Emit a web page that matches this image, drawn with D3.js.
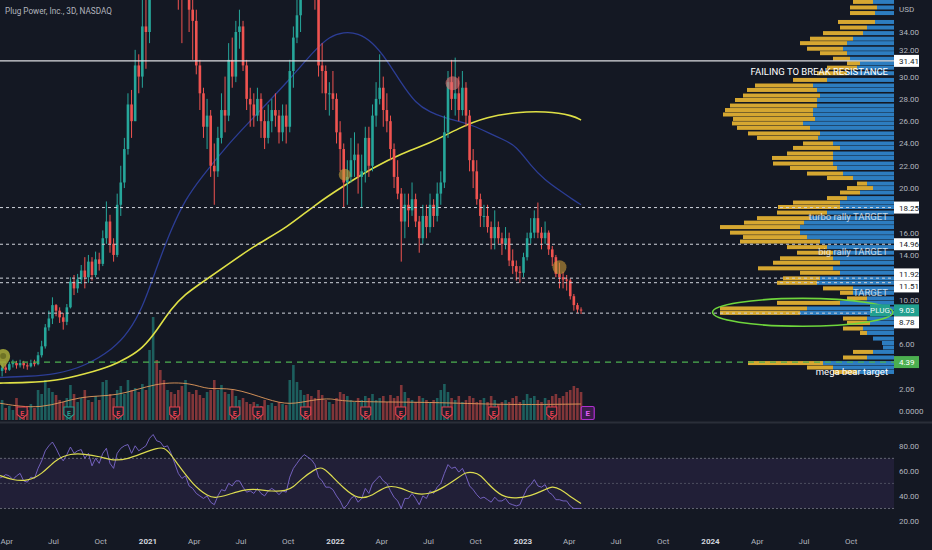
<!DOCTYPE html>
<html>
<head>
<meta charset="utf-8">
<script src="https://cdn.jsdelivr.net/npm/d3@7/dist/d3.min.js"></script>
<style>
 html,body{margin:0;padding:0;background:#141823;overflow:hidden}
 svg{display:block}
 text{font-family:Roboto,"Liberation Sans",sans-serif}
</style>
</head>
<body>
<svg id="c" width="932" height="550"></svg>
<script>
// ================= DATA =================
const title = "Plug Power, Inc., 3D, NASDAQ";
const firstBarDate = "2020-03-16";   // weekly-spaced bars from here
const firstOpen = 3.4;
const closes = [
 3.6,3.9,3.7,4.2,4.3,4.1,4.3,4.1,4.0,4.3,4.2,
 5.0,5.8,7.5,8.3,9.5,9.0,8.4,8.0,9.3,
 11.6,11.0,11.8,12.6,12.0,13.4,12.2,13.6,13.2,
 15.5,17.0,15.0,14.0,18.5,20.5,23.5,27.5,26.0,31.0,30.0,34.5,34.0,
 45,65,62,60,58,58,50,45,40,
 38,42,36,35,31,28.5,25.5,26.5,22.0,21.5,
 24.5,27.0,26.5,31.5,30.0,34.0,34.5,31.0,28.0,27.5,
 26.5,28.0,26.0,24.5,26.0,27.0,26.5,25.0,26.5,25.5,
 30.5,33.5,35.5,39,43,42,40,38,31,30.5,
 28.5,28.5,28.0,25.0,23.5,20.5,21.0,22.5,23.0,21.0,
 21.5,24.5,22.0,26.5,28.0,29.0,27.0,26.0,23.5,21.0,
 19.5,17.0,18.5,18.0,19.0,17.0,15.5,17.5,16.5,18.5,
 17.5,19.5,20.5,25.0,29.5,28.0,28.5,27.0,29.0,26.5,
 22.5,21.5,19.0,17.5,17.5,16.5,15.5,16.5,15.5,15.0,
 15.5,13.5,13.0,12.5,12.4,13.8,15.5,16.0,17.3,16.0,
 15.5,16.0,14.5,13.8,12.3,12.0,11.8,11.7,10.3,9.5,9.1,9.03
];
const highs = [
 4.2,4.3,4.2,4.4,4.6,4.5,4.6,4.5,4.3,4.6,4.6,
 5.3,6.3,7.8,9.0,10.2,9.6,9.3,8.8,9.6,
 12.0,12.2,12.3,13.1,13.8,14.0,13.8,14.3,14.2,
 16.2,18.8,17.6,15.5,19.5,22.0,24.5,28.5,28.8,32.4,32.0,37.5,38,
 50,70,69,75,65,65,60,53,46,
 44,46,43,38,36,31.5,29,28.0,27.0,24.0,
 25.5,28.5,30.0,33.0,33.5,35.0,36.0,35.0,31.5,29.0,
 28.5,29.0,28.5,27.0,27.5,28.0,28.5,27.0,27.5,27.5,
 31.5,34.5,37.5,42,46,45,44,42,39,33,
 31.0,29.5,30.5,28.5,26.0,24.0,22.5,24.5,25.0,24.0,
 23.0,25.5,25.5,27.5,29.5,32.0,30.0,28.5,26.5,24.0,
 22.5,20.0,19.5,19.5,20.5,19.5,17.5,18.5,18.5,19.5,
 19.0,20.5,21.5,26.5,30.5,31.5,31.7,30.0,30.5,29.5,
 27.0,23.5,22.5,19.5,18.5,18.5,17.0,18.0,17.0,16.0,
 16.5,16.0,14.5,13.5,13.0,14.2,16.0,17.3,18.0,18.7,
 16.5,17.0,16.2,14.8,14.0,13.3,12.5,12.2,11.9,10.5,9.7,9.3
];
const lows = [
 2.9,3.1,3.4,3.6,3.9,3.8,3.9,3.8,3.7,3.9,4.0,
 4.1,4.8,5.6,7.2,7.8,8.5,7.9,7.3,7.7,
 9.2,10.4,10.6,11.4,11.0,11.5,11.7,12.0,12.6,
 13.0,15.0,14.2,13.4,13.8,17.5,20.0,23.0,24.5,26.0,28.5,29.0,30.7,
 33,44,55,55,50,55,48,38,36,
 33,37,34,31.5,30.2,27.0,24.5,23.5,21.0,18.5,
 21.0,24.0,25.0,26.0,29.0,29.5,32.5,30.5,27.0,25.5,
 25.5,26.0,24.5,23.5,24.0,25.0,25.5,24.0,24.2,24.0,
 25.0,29.0,33.0,34,38,40,38,36,30,28.5,
 27.0,26.5,27.0,24.0,21.5,18.3,18.5,20.5,21.0,19.5,
 18.3,20.5,21.0,21.5,25.5,27.5,25.5,25.0,22.5,20.0,
 19.0,13.4,15.5,16.5,17.5,16.5,14.2,15.0,15.5,16.0,
 16.5,17.0,18.5,20.0,24.5,27.0,26.5,26.0,26.5,25.5,
 21.5,20.0,18.5,16.5,16.5,16.0,14.5,14.5,15.0,14.0,
 14.5,13.0,12.3,11.7,11.5,12.0,13.5,15.0,15.5,15.5,
 14.5,15.0,14.0,13.0,12.0,11.0,11.0,10.8,10.0,9.0,8.8,8.7
];
const volumes = [
 18,20,12,14,10,22,12,14,10,16,12,
 30,26,40,32,28,25,20,18,22,
 35,26,18,22,30,20,18,24,20,
 38,40,26,22,30,34,26,40,30,32,28,36,30,
 70,103,60,50,40,30,28,26,30,
 34,40,28,26,30,25,22,28,30,40,
 30,35,28,26,30,24,20,22,18,16,
 18,16,14,20,15,17,14,18,16,15,
 40,55,38,30,25,26,24,22,30,25,
 20,18,16,22,28,26,24,20,18,22,
 20,24,22,26,20,22,24,18,25,22,
 24,35,28,22,20,18,24,22,20,18,
 20,22,30,36,28,22,20,24,18,20,
 24,22,18,20,22,18,24,20,16,18,
 20,18,22,24,18,20,26,22,24,20,
 18,22,20,24,26,22,24,28,30,34,32,28
];
const volumeMA = [[0,17],[12,10],[23,25],[33,23],[44,38],[54,37],[58,30],[65,33],[75,20],[81,15],[87,20],[93,22],[95,18],[121,18],[140,15],[162,16]];
const rsiValues = [
 54,55,57,56,53,56,58,52,51,55,54,
 62,68,76,80,83,78,72,68,73,
 79,74,76,77,70,74,64,70,66,
 74,78,66,62,74,78,80,81,74,80,76,78,80,
 86,89,84,83,79,80,74,66,58,
 54,56,48,46,42,40,38,40,35,33,
 40,45,44,50,48,52,52,47,43,44,
 42,46,42,40,44,46,44,41,44,43,
 55,62,66,70,73,71,69,65,55,52,
 47,47,45,40,36,30,33,38,40,35,
 38,46,42,50,53,56,52,50,44,39,
 36,30,38,38,42,38,33,40,38,44,
 42,47,50,58,65,62,63,59,62,56,
 48,45,41,38,39,37,35,39,36,36,
 38,34,33,32,33,40,46,49,53,48,
 47,49,43,41,37,37,36,36,32,30,30,30
];
const rsiSignal = [[0,56.7],[4,52.5],[8,51.8],[12,57],[16,69.5],[20,73.8],[24,73.5],[28,71.5],[32,68],[36,69.5],[40,74],[44,78],[46,79],[48,73],[50,64.7],[52,57],[54,50],[56,44.5],[58,40.5],[60,38],[64,41],[68,45],[72,45.5],[76,43.5],[80,44],[82,47],[84,53],[88,61.5],[90,63.3],[92,58],[96,46],[100,37],[104,40],[108,49],[112,46.5],[116,41],[120,41.5],[124,47],[128,55],[130,59],[132,58.8],[134,57],[136,50],[140,39],[144,38],[148,40],[152,45],[154,47.8],[156,46],[160,37.5],[162,34]];
const maYellow = [[0,2.5],[8,2.55],[16,2.7],[24,3.3],[32,4.1],[36,4.8],[40,5.6],[44,7.2],[48,9.2],[52,10.5],[56,11.4],[64,13.2],[72,15.0],[80,16.4],[88,18.5],[96,20.2],[104,21.8],[112,23.1],[120,24.0],[128,25.4],[136,26.4],[144,26.8],[152,26.9],[160,26.5],[162,26.1]];
const maBlue = [[0,3.0],[8,3.1],[16,3.3],[24,4.0],[32,5.6],[36,7.0],[40,9.2],[44,12.9],[48,16.3],[52,19.0],[56,20.8],[64,24.0],[72,26.7],[80,29.4],[88,32.4],[92,33.6],[96,34.0],[100,33.9],[104,33.1],[108,31.5],[112,29.4],[116,27.6],[120,26.8],[124,26.3],[128,26.0],[132,25.6],[136,25.0],[140,24.4],[144,23.8],[148,22.0],[152,20.7],[156,19.8],[160,18.9],[162,18.5]];
// volume profile rows
const vpPrices = [36.7,36.2,35.7,34.9,34.4,33.9,33.4,33.0,32.5,32.1,31.6,31.2,30.8,30.3,29.7,29.2,28.8,28.3,27.9,27.4,27.0,26.6,26.2,25.8,25.4,24.9,24.5,24.0,23.6,23.1,22.7,22.2,21.8,21.3,20.9,20.4,20.0,19.6,19.1,18.7,18.3,17.8,17.3,16.9,16.5,16.0,15.6,15.2,14.7,14.2,13.7,13.3,12.8,12.4,11.9,11.5,11.0,10.6,10.1,9.7,9.2,8.8,8.3,7.9,7.4,7.0,6.5,6.1,5.7,5.3,4.8,4.3,3.9,3.5];
const vpTotal  = [41,44,44,56,54,71,84,94,87,74,61,47,67,77,101,139,147,151,159,164,169,171,161,162,157,146,137,91,101,107,122,121,104,87,67,37,47,54,67,101,116,117,137,150,174,164,151,154,107,97,114,121,136,94,111,117,71,54,47,117,174,174,51,47,51,34,21,12,11,41,51,146,87,61];
const vpUp     = [21,17,19,19,27,31,41,47,51,47,44,34,37,47,67,81,77,74,77,77,81,81,79,91,84,74,76,61,54,61,61,61,57,51,41,27,21,34,47,54,54,67,84,90,94,94,87,74,67,61,61,54,61,54,74,77,41,41,27,54,87,94,27,24,31,27,21,12,11,21,27,71,61,37];
// horizontal levels
const levels = [
 {price:31.41, kind:"solid"},
 {price:18.25, kind:"dash"},
 {price:14.96, kind:"dash"},
 {price:11.92, kind:"dash"},
 {price:11.51, kind:"dash"},
 {price:8.78,  kind:"dash"},
 {price:4.39,  kind:"green"}
];
const currentPrice = 9.03;
const ticker = "PLUG";
const priceTicks = [0,2,4,6,8,10,12,14,16,18,20,22,24,26,28,30,32,34];
const rsiTicks = [20,40,60,80];
const rsiBands = [70,50,30];
const timeTicks = ["2020-04-01","2020-07-01","2020-10-01","2021-01-01","2021-04-01","2021-07-01","2021-10-01","2022-01-01","2022-04-01","2022-07-01","2022-10-01","2023-01-01","2023-04-01","2023-07-01","2023-10-01","2024-01-01","2024-04-01","2024-07-01","2024-10-01"];
const earnings = [
 {date:"2020-05-01",kind:"red"},{date:"2020-07-31",kind:"teal"},{date:"2020-11-04",kind:"red"},
 {date:"2021-02-22",kind:"red"},{date:"2021-06-19",kind:"red"},{date:"2021-08-03",kind:"red"},
 {date:"2021-11-04",kind:"red"},{date:"2022-03-01",kind:"red"},{date:"2022-05-08",kind:"red"},
 {date:"2022-08-06",kind:"red"},{date:"2022-11-05",kind:"red"},{date:"2023-02-26",kind:"red"},
 {date:"2023-05-07",kind:"future"}
];
const markers = [
 {date:"2022-01-19",price:21.2,color:"#c9a23a",r:6},
 {date:"2022-08-17",price:29.4,color:"#e57373",r:7},
 {date:"2023-03-13",price:12.9,color:"#c99a38",r:7}
];
const pin = {date:"2020-03-25",price:4.75};
const lasso = {from:"2024-01-05", to:"2024-12-21", top:10.1, bottom:7.6};
const notes = [
 {text:"FAILING TO BREAK RESISTANCE", price:30.15, size:9.5, op:1},
 {text:"turbo rally TARGET", price:17.1, size:9.5, op:0.72},
 {text:"big rally TARGET", price:14.0, size:9.5, op:0.72},
 {text:"TARGET", price:10.3, size:9.5, op:0.72},
 {text:"mega bear target", price:3.2, size:9.5, op:1}
];

// ================= CHART =================
const parse = d3.timeParse("%Y-%m-%d");
const svg = d3.select("#c");
const PR = 894;           // right edge of panes
const MAIN_B = 421;
const BG = "#141823";
const UP = "#26a69a", DN = "#ef5350";

svg.append("rect").attr("width",932).attr("height",550).attr("fill",BG);

const x = d3.scaleTime().domain([parse("2021-01-01"), parse("2023-01-01")]).range([148, 523]);
const y = d3.scaleLinear().domain([0, 34]).range([411, 32]);
const yVol = d3.scaleLinear().domain([0, 110]).range([420, 310]);
const yRsi = d3.scaleLinear().domain([20, 80]).range([521, 445.8]);
const vpLen = d3.scaleLinear().domain([0, 100]).range([0, 100]);

const start = parse(firstBarDate);
const bars = closes.map((c,i)=>({
  date: d3.timeDay.offset(start, 7*i),
  o: i===0 ? firstOpen : closes[i-1],
  c, h: highs[i], l: lows[i], v: volumes[i], rsi: rsiValues[i]
}));
const bx = i => x(bars[i].date);

const defs = svg.append("defs");
defs.append("clipPath").attr("id","mainClip").append("rect").attr("x",0).attr("y",0).attr("width",PR).attr("height",MAIN_B);
defs.append("clipPath").attr("id","rsiClip").append("rect").attr("x",0).attr("y",424).attr("width",PR).attr("height",104);

const main = svg.append("g").attr("clip-path","url(#mainClip)");

// volume bars
main.append("g").selectAll("rect").data(bars).join("rect")
  .attr("x", d=>x(d.date)-1.3).attr("width",2.6)
  .attr("y", d=>yVol(d.v)).attr("height", d=>yVol(0)-yVol(d.v))
  .attr("fill", d=> d.c>=d.o ? UP : DN).attr("opacity",0.5);
main.append("path").datum(volumeMA)
  .attr("d", d3.line().x(d=>bx(d[0])).y(d=>yVol(d[1])).curve(d3.curveBasis))
  .attr("fill","none").attr("stroke","#e39a5c").attr("stroke-width",1).attr("opacity",0.9);

// volume profile
const vp = main.append("g");
vpPrices.forEach((p,i)=>{
  const yy = y(p) - 2;
  const tot = vpLen(vpTotal[i]), up = vpLen(vpUp[i]);
  vp.append("rect").attr("x",PR-tot).attr("y",yy).attr("width",tot-up).attr("height",4).attr("fill","#d6a731");
  vp.append("rect").attr("x",PR-up).attr("y",yy).attr("width",up).attr("height",4).attr("fill","#2d7dc0");
});

// moving averages
const maLine = d3.line().x(d=>bx(d[0])).y(d=>y(d[1])).curve(d3.curveBasis);
main.append("path").datum(maBlue).attr("d",maLine).attr("fill","none").attr("stroke","#2c3d95").attr("stroke-width",1.3);
main.append("path").datum(maYellow).attr("d",maLine).attr("fill","none").attr("stroke","#dfe046").attr("stroke-width",1.6);

// candles
const cg = main.append("g");
bars.forEach(b=>{
  const col = b.c>=b.o ? UP : DN;
  const cx = x(b.date);
  cg.append("line").attr("x1",cx).attr("x2",cx).attr("y1",y(b.h)).attr("y2",y(b.l)).attr("stroke",col).attr("stroke-width",1);
  const top = y(Math.max(b.o,b.c)), bot = y(Math.min(b.o,b.c));
  cg.append("rect").attr("x",cx-1.3).attr("width",2.6).attr("y",top).attr("height",Math.max(1,bot-top)).attr("fill",col);
});

// level lines
levels.forEach(l=>{
  const ln = main.append("line").attr("x1",0).attr("x2",PR).attr("y1",y(l.price)).attr("y2",y(l.price));
  if(l.kind==="solid") ln.attr("stroke","#dcdde2").attr("stroke-width",1.2);
  else if(l.kind==="green") ln.attr("stroke","#4caf50").attr("stroke-width",1.3).attr("stroke-dasharray","6,5");
  else ln.attr("stroke","#d1d4dc").attr("stroke-width",1).attr("stroke-dasharray","3,3");
});

// markers
markers.forEach(m=>{
  main.append("circle").attr("cx",x(parse(m.date))).attr("cy",y(m.price)).attr("r",m.r)
    .attr("fill",m.color).attr("opacity",0.6);
});
{
  const px = x(parse(pin.date)), py = y(pin.price);
  main.append("path").attr("d",`M${px},${py+11} C${px-3},${py+6} ${px-7},${py+3} ${px-7},${py-2} A7,7 0 1 1 ${px+7},${py-2} C${px+7},${py+3} ${px+3},${py+6} ${px},${py+11} Z`)
    .attr("fill","#a9ad3a").attr("opacity",0.85);
  main.append("circle").attr("cx",px).attr("cy",py-2).attr("r",3).attr("fill","#6f7326");
}

// lasso ellipse
{
  const x0 = x(parse(lasso.from)), x1 = x(parse(lasso.to));
  const y0 = y(lasso.top), y1 = y(lasso.bottom);
  main.append("ellipse").attr("cx",(x0+x1)/2).attr("cy",(y0+y1)/2).attr("rx",(x1-x0)/2).attr("ry",(y1-y0)/2)
    .attr("fill","none").attr("stroke","#6fd63c").attr("stroke-width",1.6);
}

// notes
notes.forEach(n=>{
  main.append("text").attr("x",PR-6).attr("y",y(n.price)).attr("text-anchor","end")
    .attr("font-size",n.size).attr("fill","#ffffff").attr("opacity",n.op).text(n.text);
});

// earnings badges
earnings.forEach(e=>{
  const ex = x(parse(e.date)), ey = 413;
  const gE = svg.append("g");
  if(e.kind==="future"){
    gE.append("rect").attr("x",ex-6.5).attr("y",ey-6.5).attr("width",13).attr("height",13).attr("rx",1.5)
      .attr("fill","#3b1d4c").attr("stroke","#b02fd0").attr("stroke-width",1.2);
    gE.append("text").attr("x",ex).attr("y",ey+3).attr("text-anchor","middle").attr("font-size",8).attr("font-weight","bold").attr("fill","#e15cf5").text("E");
  } else {
    const col = e.kind==="teal" ? "#22a08f" : "#e5404f";
    gE.append("path").attr("d",`M${ex-5},${ey-6} h10 v7.5 l-5,4 l-5,-4 Z`).attr("fill","#1d1f2b").attr("stroke",col).attr("stroke-width",1.1);
    gE.append("text").attr("x",ex).attr("y",ey+2.6).attr("text-anchor","middle").attr("font-size",7).attr("font-weight","bold").attr("fill",col).text("E");
  }
});

// pane separator
svg.append("line").attr("x1",0).attr("x2",932).attr("y1",422.5).attr("y2",422.5).attr("stroke","#2a2e39").attr("stroke-width",2);

// RSI pane
const rsiG = svg.append("g").attr("clip-path","url(#rsiClip)");
rsiG.append("rect").attr("x",0).attr("width",PR).attr("y",yRsi(70)).attr("height",yRsi(30)-yRsi(70)).attr("fill","rgba(126,87,194,0.13)");
rsiBands.forEach(v=>{
  rsiG.append("line").attr("x1",0).attr("x2",PR).attr("y1",yRsi(v)).attr("y2",yRsi(v))
    .attr("stroke","#787b86").attr("stroke-dasharray","2,2").attr("opacity", v===50?0.5:0.8);
});
rsiG.append("path").datum(bars).attr("d",d3.line().x(d=>x(d.date)).y(d=>yRsi(d.rsi)))
  .attr("fill","none").attr("stroke","#7c68cc").attr("stroke-width",0.9);
rsiG.append("path").datum(rsiSignal).attr("d",d3.line().x(d=>bx(d[0])).y(d=>yRsi(d[1])).curve(d3.curveBasis))
  .attr("fill","none").attr("stroke","#dcdc50").attr("stroke-width",1.2);

// right axis (price)
const ax = svg.append("g").attr("font-size",8).attr("fill","#b2b5be");
ax.append("text").attr("x",899).attr("y",12).text("USD");

// price label boxes with overlap resolution
const labels = levels.map(l=>({price:l.price, y:y(l.price), fixed:false,
   fill: l.kind==="green" ? "#4caf50" : "#ffffff", tc: l.kind==="green" ? "#ffffff" : "#131722"}));
labels.push({price:currentPrice, y:y(currentPrice), fixed:true, fill:"#22a08f", tc:"#ffffff", cur:true});
labels.sort((a,b)=>a.y-b.y);
for(let it=0; it<20; it++){
  for(let i=0;i<labels.length-1;i++){
    const a=labels[i], b=labels[i+1], gap=12 - (b.y-a.y);
    if(gap>0){
      if(a.fixed){ b.y += gap; }
      else if(b.fixed){ a.y -= gap; }
      else { a.y -= gap/2; b.y += gap/2; }
    }
  }
}

// ticks: hidden where a label box sits on them; a tick just above the top box is nudged clear of it
priceTicks.forEach(v=>{
  const ty = y(v);
  const near = labels.filter(l=>Math.abs(l.y-ty)<10.5);
  if(near.length===0){
    ax.append("text").attr("x",899).attr("y",ty+3).text(v===0 ? "0.0000" : v.toFixed(2));
  } else if(near.every(l=>l.y-ty>6) && near[0]===labels[0]){
    ax.append("text").attr("x",899).attr("y",labels[0].y-7.5).text(v.toFixed(2));
  }
});
rsiTicks.forEach(v=>{
  ax.append("text").attr("x",899).attr("y",yRsi(v)+3).text(v.toFixed(2));
});

labels.forEach(l=>{
  ax.append("rect").attr("x",PR).attr("y",l.y-6).attr("width",25).attr("height",12).attr("fill",l.fill);
  ax.append("text").attr("x",899).attr("y",l.y+3).attr("fill",l.tc).text(l.price.toFixed(2));
  if(l.cur){
    ax.append("rect").attr("x",870).attr("y",l.y-6).attr("width",20).attr("height",12).attr("fill",l.fill);
    ax.append("text").attr("x",880).attr("y",l.y+3).attr("text-anchor","middle").attr("fill","#e8f5f2").text(ticker);
  }
});

// time axis
timeTicks.forEach(s=>{
  const d = parse(s);
  const isYear = d.getMonth()===0;
  svg.append("text").attr("x",x(d)).attr("y",544).attr("text-anchor","middle")
    .attr("font-size",8).attr("font-weight", isYear?"bold":"normal")
    .attr("fill", isYear ? "#d1d4dc" : "#b2b5be")
    .text(isYear ? d3.timeFormat("%Y")(d) : d3.timeFormat("%b")(d));
});

// title
svg.append("text").attr("x",5).attr("y",14).attr("font-size",8.2).attr("fill","#b2b5be").text(title);
</script>
</body>
</html>
